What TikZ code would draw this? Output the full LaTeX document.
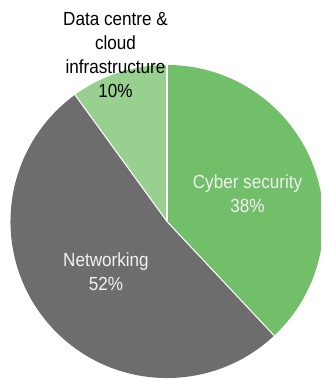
\documentclass[tikz,border=0pt]{standalone}
\usepackage{fontspec}
\setmainfont[FakeStretch=0.9]{Liberation Sans}
\definecolor{cybergreen}{RGB}{114,191,106}
\definecolor{datagreen}{RGB}{152,208,143}
\definecolor{netgray}{RGB}{109,109,109}
\definecolor{lbltext}{RGB}{242,242,242}
\tikzset{
  slice/.style={draw=none},
  sep/.style={draw=white, line width=0.8pt},
  lbl/.style={align=center, font=\fontsize{14.25pt}{18pt}\selectfont, inner sep=0pt},
}
\begin{document}
\begin{tikzpicture}[x=0.75pt, y=0.75pt]
\useasboundingbox (0,0) rectangle (321,381);
\clip (0,0) rectangle (321,381);
\coordinate (c) at (167,159.5);
\def\R{117.4pt}
\fill[slice, cybergreen] (c) -- ++(90:\R) arc[start angle=90, end angle=-46.8, radius=\R] -- cycle;
\fill[slice, netgray] (c) -- ++(-46.8:\R) arc[start angle=-46.8, end angle=-234, radius=\R] -- cycle;
\fill[slice, datagreen] (c) -- ++(126:\R) arc[start angle=126, end angle=90, radius=\R] -- cycle;
\draw[sep] (c) -- ++(90:\R) coordinate (e1);
\draw[sep] (c) -- ++(-46.8:\R) coordinate (e2);
\draw[sep] (c) -- ++(126:\R) coordinate (e3);
\node[lbl, text=lbltext] (cyber) at (247.5,187) {Cyber security\\38\%};
\node[lbl, text=lbltext] (net) at (106,109) {Networking\\52\%};
\node[lbl, text=black] (dc) at (115.5,326) {Data centre \&\\cloud\\infrastructure\\10\%};
\end{tikzpicture}
\end{document}
